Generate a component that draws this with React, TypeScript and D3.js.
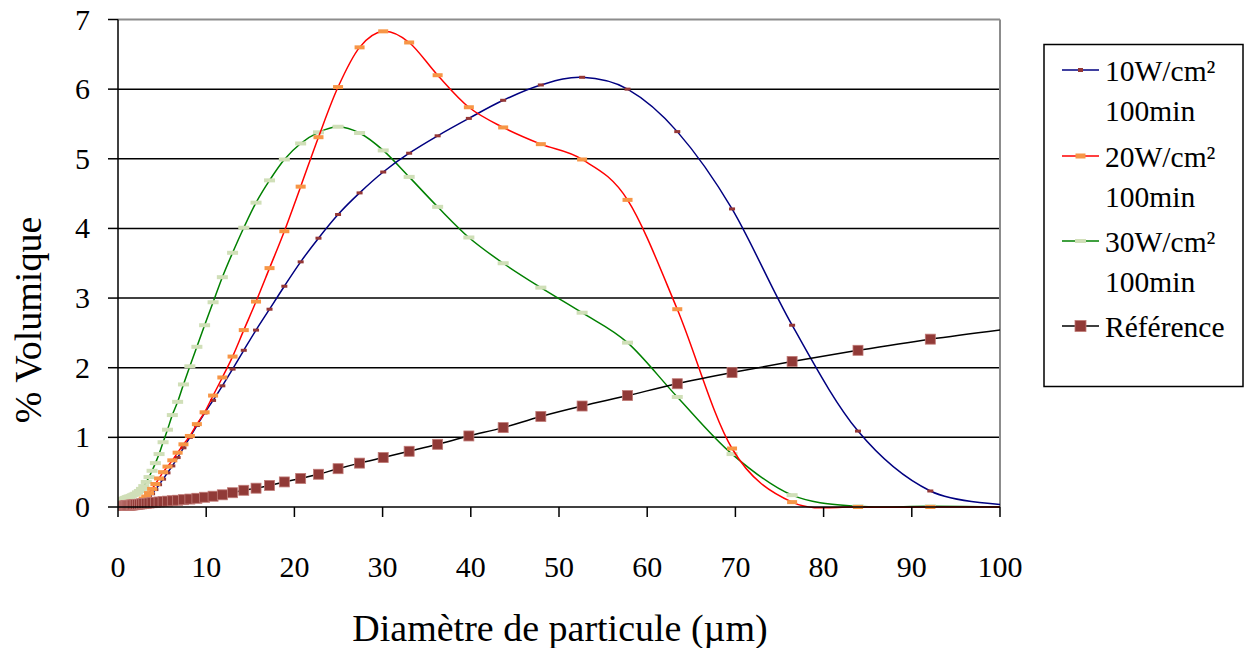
import React from "react";
import * as d3 from "d3";

// Particle size channels (µm)
const sizes = [
  0.375, 0.412, 0.452, 0.496, 0.545, 0.598, 0.656, 0.721, 0.791, 0.868,
  0.953, 1.047, 1.149, 1.261, 1.385, 1.52, 1.669, 1.832, 2.011, 2.208,
  2.423, 2.66, 2.92, 3.206, 3.519, 3.863, 4.241, 4.656, 5.111, 5.611,
  6.159, 6.761, 7.422, 8.148, 8.944, 9.819, 10.78, 11.83, 12.99, 14.26,
  15.65, 17.18, 18.86, 20.71, 22.73, 24.95, 27.39, 30.07, 33.01, 36.24,
  39.78, 43.67, 47.94, 52.62, 57.77, 63.41, 69.62, 76.43, 83.9, 92.1, 101.1,
];

const w10 = [
  0, 0, 0, 0, 0, 0, 0, 0, 0, 0,
  0, 0, 0.002, 0.003, 0.005, 0.007, 0.01, 0.013, 0.018, 0.025,
  0.035, 0.05, 0.07, 0.1, 0.14, 0.19, 0.25, 0.32, 0.4, 0.49,
  0.59, 0.71, 0.85, 1.0, 1.17, 1.35, 1.53, 1.74, 1.98, 2.25,
  2.54, 2.84, 3.17, 3.52, 3.86, 4.2, 4.51, 4.81, 5.08, 5.33,
  5.58, 5.84, 6.06, 6.17, 6.0, 5.39, 4.28, 2.61, 1.09, 0.23, 0.03,
];

const w20 = [
  0, 0, 0, 0, 0, 0, 0, 0, 0, 0,
  0.001, 0.002, 0.004, 0.006, 0.009, 0.013, 0.019, 0.026, 0.035, 0.05,
  0.07, 0.09, 0.12, 0.15, 0.2, 0.26, 0.33, 0.41, 0.5, 0.58,
  0.67, 0.78, 0.9, 1.02, 1.19, 1.36, 1.6, 1.86, 2.16, 2.54,
  2.95, 3.43, 3.96, 4.6, 5.31, 6.03, 6.6, 6.83, 6.67, 6.2,
  5.74, 5.45, 5.21, 4.99, 4.41, 2.84, 0.84, 0.07, 0.0, 0.0, 0.0,
];

const w30 = [
  0.08, 0.09, 0.09, 0.1, 0.1, 0.11, 0.11, 0.12, 0.12, 0.13,
  0.13, 0.14, 0.14, 0.15, 0.15, 0.16, 0.17, 0.18, 0.19, 0.21,
  0.23, 0.26, 0.3, 0.36, 0.43, 0.52, 0.63, 0.76, 0.93, 1.11,
  1.32, 1.51, 1.76, 2.02, 2.3, 2.61, 2.94, 3.3, 3.65, 4.01,
  4.37, 4.69, 4.99, 5.22, 5.38, 5.46, 5.37, 5.12, 4.74, 4.31,
  3.87, 3.5, 3.15, 2.79, 2.36, 1.58, 0.76, 0.17, 0.01, 0.01, 0.0,
];

const reference = [
  0.005, 0.006, 0.007, 0.008, 0.009, 0.01, 0.011, 0.012, 0.014, 0.016,
  0.018, 0.02, 0.022, 0.024, 0.026, 0.028, 0.03, 0.032, 0.035, 0.038,
  0.041, 0.045, 0.049, 0.053, 0.057, 0.062, 0.067, 0.072, 0.078, 0.084,
  0.09, 0.097, 0.105, 0.114, 0.125, 0.14, 0.155, 0.175, 0.205, 0.24,
  0.27, 0.31, 0.36, 0.41, 0.47, 0.55, 0.63, 0.71, 0.8, 0.9,
  1.02, 1.14, 1.3, 1.45, 1.6, 1.77, 1.93, 2.09, 2.25, 2.41, 2.56,
];

const xTicks = [0, 10, 20, 30, 40, 50, 60, 70, 80, 90, 100];
const yTicks = [0, 1, 2, 3, 4, 5, 6, 7];

type Series = {
  key: string;
  label: string[];
  values: number[];
  line: string;
  fill: string;
  stroke: string;
  mw: number;
  mh: number;
  lw: number;
  lh: number;
};

const series: Series[] = [
  { key: "w10", label: ["10W/cm²", "100min"], values: w10, line: "#000080", fill: "#953735", stroke: "none", mw: 6, mh: 3, lw: 5, lh: 4 },
  { key: "w20", label: ["20W/cm²", "100min"], values: w20, line: "#ff0000", fill: "#f79646", stroke: "none", mw: 10, mh: 4, lw: 10, lh: 5 },
  { key: "w30", label: ["30W/cm²", "100min"], values: w30, line: "#008000", fill: "#d0dfb8", stroke: "none", mw: 11, mh: 4, lw: 11, lh: 4 },
  { key: "ref", label: ["Référence"], values: reference, line: "#000000", fill: "#913a37", stroke: "#c07a76", mw: 10, mh: 10, lw: 11, lh: 11 },
];

const drawOrder = ["w30", "w10", "w20", "ref"];

const W = 1249;
const H = 648;
const FONT = '"Liberation Serif", "Times New Roman", Times, serif';

export default function App() {
  const x = d3.scaleLinear().domain([0, 100]).range([118, 1000]);
  const y = d3.scaleLinear().domain([0, 7]).range([507, 19.5]);

  const lineGen = (vals: number[]) =>
    d3
      .line<number>()
      .x((_, i) => x(sizes[i]))
      .y((v) => y(v))
      .curve(d3.curveCardinal.tension(0))(vals) || "";

  const ordered = drawOrder.map((k) => series.find((s) => s.key === k)!);

  const legendRows = [
    { s: series[0], lineY: 70, textY: [81, 121] },
    { s: series[1], lineY: 156, textY: [167, 207] },
    { s: series[2], lineY: 241, textY: [252, 292] },
    { s: series[3], lineY: 326, textY: [337] },
  ];

  const ts = { fontFamily: FONT };

  return (
    <svg
      width={W}
      height={H}
      style={{ position: "absolute", left: 0, top: 0, background: "#fff", fontFamily: FONT }}
    >
      <defs>
        <clipPath id="plotClip">
          <rect x={118} y={15} width={882} height={496} />
        </clipPath>
      </defs>
      <rect width={W} height={H} fill="#fff" />

      {/* gridlines */}
      {yTicks.filter((t) => t > 0 && t < 7).map((t) => (
        <line key={"g" + t} x1={x(0)} x2={x(100)} y1={y(t)} y2={y(t)} stroke="#000" strokeWidth={1.5} />
      ))}
      {/* top & right border */}
      <line x1={x(0)} x2={x(100)} y1={y(7)} y2={y(7)} stroke="#8c8c8c" strokeWidth={2} />
      <line x1={x(100)} x2={x(100)} y1={y(7)} y2={y(0)} stroke="#8c8c8c" strokeWidth={2} />

      {/* series */}
      <g clipPath="url(#plotClip)">
        {ordered.map((s) => (
          <g key={s.key}>
            <path d={lineGen(s.values)} fill="none" stroke={s.line} strokeWidth={1.5} />
            {s.values.map((v, i) => (
              <rect
                key={i}
                x={x(sizes[i]) - s.mw / 2}
                y={y(v) - s.mh / 2}
                width={s.mw}
                height={s.mh}
                fill={s.fill}
                stroke={s.stroke}
                strokeWidth={s.stroke === "none" ? 0 : 0.8}
              />
            ))}
          </g>
        ))}
      </g>

      {/* axes */}
      <line x1={x(0)} x2={x(0)} y1={y(7)} y2={y(0)} stroke="#000" strokeWidth={1.5} />
      <line x1={x(0)} x2={x(100)} y1={y(0)} y2={y(0)} stroke="#000" strokeWidth={1.5} />
      {yTicks.map((t) => (
        <g key={"yt" + t}>
          <line x1={x(0) - 10} x2={x(0)} y1={y(t)} y2={y(t)} stroke="#000" strokeWidth={1.5} />
          <text x={90} y={y(t) + 10} textAnchor="end" fontSize={30} fill="#000" style={ts}>
            {t}
          </text>
        </g>
      ))}
      {xTicks.map((t) => (
        <g key={"xt" + t}>
          <line x1={x(t)} x2={x(t)} y1={y(0)} y2={y(0) + 10} stroke="#000" strokeWidth={1.5} />
          <text x={x(t)} y={577} textAnchor="middle" fontSize={30} fill="#000" style={ts}>
            {t}
          </text>
        </g>
      ))}

      {/* axis titles */}
      <text x={560} y={641} textAnchor="middle" fontSize={38} fill="#000" style={ts}>
        Diamètre de particule (µm)
      </text>
      <text transform="translate(41,320) rotate(-90)" textAnchor="middle" fontSize={38} fill="#000" style={ts}>
        % Volumique
      </text>

      {/* legend */}
      <rect x={1044} y={44.5} width={199} height={342} fill="#fff" stroke="#000" strokeWidth={1.5} />
      {legendRows.map(({ s, lineY, textY }) => (
        <g key={"lg" + s.key}>
          <line x1={1062} x2={1099} y1={lineY} y2={lineY} stroke={s.line} strokeWidth={1.5} />
          <rect
            x={1080.5 - s.lw / 2}
            y={lineY - s.lh / 2}
            width={s.lw}
            height={s.lh}
            fill={s.fill}
            stroke={s.stroke}
            strokeWidth={s.stroke === "none" ? 0 : 0.8}
          />
          {s.label.map((l, j) => (
            <text key={j} x={1105} y={textY[j]} fontSize={29.5} fill="#000" style={ts}>
              {l}
            </text>
          ))}
        </g>
      ))}
    </svg>
  );
}
